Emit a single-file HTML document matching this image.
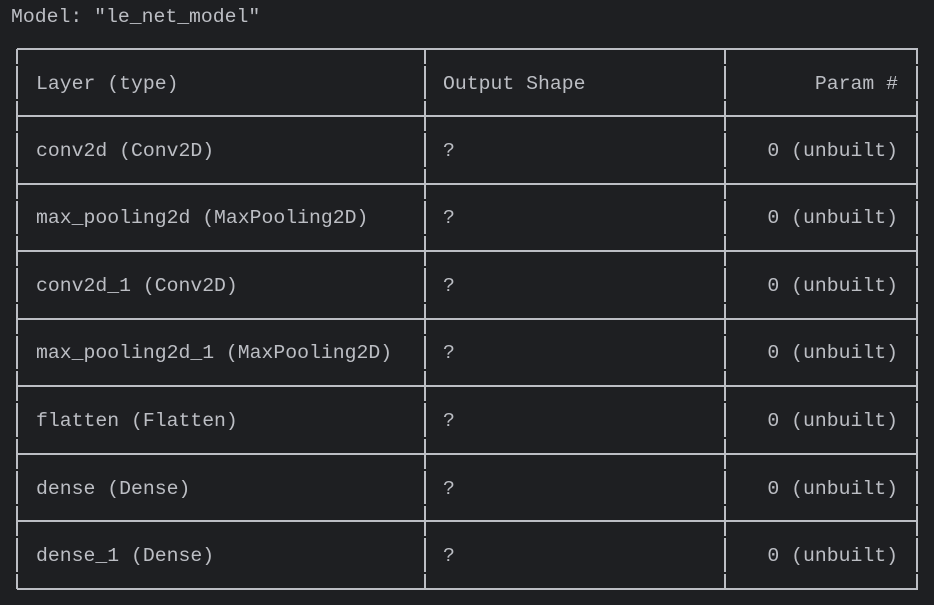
<!DOCTYPE html>
<html><head><meta charset="utf-8"><style>
html,body{margin:0;padding:0;background:#1e1f22;}
svg{display:block}
text{font-family:"Liberation Mono",monospace;font-size:19.8px;fill:#bcbec4;}
</style></head><body>
<svg width="934" height="605" viewBox="0 0 934 605" xmlns="http://www.w3.org/2000/svg">
<rect width="934" height="605" fill="#1e1f22"/>
<text x="11" y="22">Model: "le_net_model"</text>
<g stroke="#bcbec4" stroke-width="2" fill="none">
<line x1="17" y1="49" x2="918" y2="49"/>
<line x1="17" y1="116" x2="918" y2="116"/>
<line x1="17" y1="184" x2="918" y2="184"/>
<line x1="17" y1="251" x2="918" y2="251"/>
<line x1="17" y1="319" x2="918" y2="319"/>
<line x1="17" y1="386" x2="918" y2="386"/>
<line x1="17" y1="454" x2="918" y2="454"/>
<line x1="17" y1="521" x2="918" y2="521"/>
<line x1="17" y1="589" x2="918" y2="589"/>
</g>
<g stroke="#bcbec4" stroke-width="2" fill="none" id="v">
<line x1="17" y1="49" x2="17" y2="589"/>
<line x1="425" y1="49" x2="425" y2="589"/>
<line x1="725" y1="49" x2="725" y2="589"/>
<line x1="917" y1="49" x2="917" y2="589"/>
</g>
<g fill="#1e1f22">
<rect x="14" y="64" width="906" height="2"/><rect x="14" y="99" width="906" height="2"/>
<rect x="14" y="131" width="906" height="2"/><rect x="14" y="167" width="906" height="2"/>
<rect x="14" y="199" width="906" height="2"/><rect x="14" y="234" width="906" height="2"/>
<rect x="14" y="266" width="906" height="2"/><rect x="14" y="302" width="906" height="2"/>
<rect x="14" y="334" width="906" height="2"/><rect x="14" y="369" width="906" height="2"/>
<rect x="14" y="401" width="906" height="2"/><rect x="14" y="437" width="906" height="2"/>
<rect x="14" y="469" width="906" height="2"/><rect x="14" y="504" width="906" height="2"/>
<rect x="14" y="536" width="906" height="2"/><rect x="14" y="572" width="906" height="2"/>
</g>
<g>
<text x="36" y="89">Layer (type)</text><text x="443" y="89">Output Shape</text><text x="898" y="89" text-anchor="end">Param #</text>
<text x="36" y="156">conv2d (Conv2D)</text><text x="443" y="156">?</text><text x="898" y="156" text-anchor="end">0 (unbuilt)</text>
<text x="36" y="223">max_pooling2d (MaxPooling2D)</text><text x="443" y="223">?</text><text x="898" y="223" text-anchor="end">0 (unbuilt)</text>
<text x="36" y="291">conv2d_1 (Conv2D)</text><text x="443" y="291">?</text><text x="898" y="291" text-anchor="end">0 (unbuilt)</text>
<text x="36" y="358">max_pooling2d_1 (MaxPooling2D)</text><text x="443" y="358">?</text><text x="898" y="358" text-anchor="end">0 (unbuilt)</text>
<text x="36" y="426">flatten (Flatten)</text><text x="443" y="426">?</text><text x="898" y="426" text-anchor="end">0 (unbuilt)</text>
<text x="36" y="494">dense (Dense)</text><text x="443" y="494">?</text><text x="898" y="494" text-anchor="end">0 (unbuilt)</text>
<text x="36" y="561">dense_1 (Dense)</text><text x="443" y="561">?</text><text x="898" y="561" text-anchor="end">0 (unbuilt)</text>
</g>
</svg>
</body></html>
